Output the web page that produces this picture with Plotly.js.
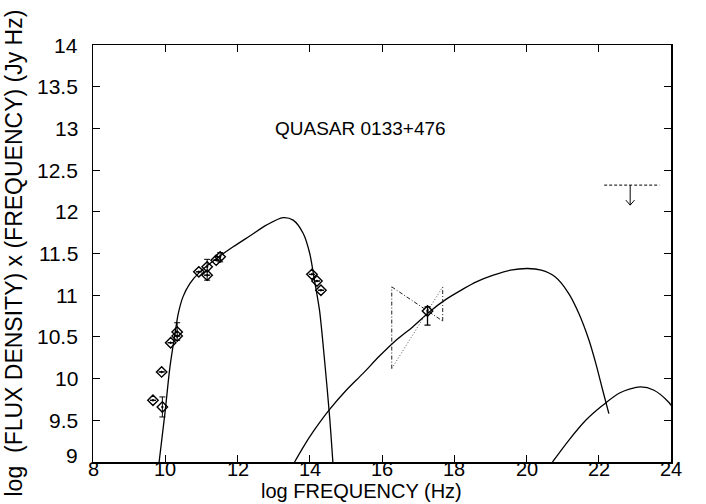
<!DOCTYPE html>
<html>
<head>
<meta charset="utf-8">
<script src="https://cdn.plot.ly/plotly-3.0.1.min.js"></script>
<style>html,body{margin:0;padding:0;background:#fff;}#chart{width:706px;height:504px;}</style>
</head>
<body>
<div id="chart"></div>
<script>
// ---- data (log frequency in Hz, log nu*F_nu in Jy Hz) ----
const obsX      = [9.66, 9.90, 9.92, 10.15, 10.33, 10.33, 10.93, 11.16, 11.16, 11.41, 11.52, 14.06, 14.20, 14.31];
const obsY      = [9.74, 10.08, 9.66, 10.43, 10.56, 10.51, 11.28, 11.34, 11.24, 11.42, 11.46, 11.25, 11.17, 11.06];
const obsErrUp  = [0, 0, 0.12, 0, 0.11, 0, 0, 0.09, 0, 0, 0.05, 0, 0, 0];
const obsErrDn  = [0, 0, 0.12, 0, 0.10, 0, 0, 0.16, 0, 0, 0.06, 0, 0, 0];

const xrayX     = [17.26];
const xrayY     = [10.81];
const xrayErrUp = [0.05];
const xrayErrDn = [0.17];

// X-ray spectral "bow tie" limits
const bowX      = [16.27, 17.68];
const bowTop    = [11.10, 11.10];
const bowBottom = [10.12, 10.69];

// gamma-ray upper limit
const limX      = [22.15, 23.68];
const limY      = 12.32;
const limArrowX = 22.87;
const limArrowY = 12.08;

// model curves
const syncX = [9.83, 9.99, 10.13, 10.27, 10.36, 10.49, 10.68, 10.96, 11.42, 11.88, 12.34, 12.80, 13.26, 13.54, 13.82, 14.00, 14.13, 14.27, 14.41, 14.55, 14.64];
const syncY = [9.00, 9.58, 10.14, 10.54, 10.78, 10.98, 11.14, 11.28, 11.44, 11.58, 11.71, 11.84, 11.93, 11.90, 11.74, 11.50, 11.18, 10.82, 10.22, 9.54, 9.00];

const sscX  = [13.58, 13.85, 14.09, 14.55, 15.01, 15.47, 15.93, 16.39, 16.85, 17.31, 17.77, 18.23, 18.61, 19.08, 19.56, 20.03, 20.41, 20.79, 21.17, 21.45, 21.73, 21.92, 22.11, 22.28];
const sscY  = [9.00, 9.20, 9.36, 9.63, 9.86, 10.06, 10.27, 10.46, 10.62, 10.80, 10.95, 11.07, 11.16, 11.24, 11.30, 11.32, 11.30, 11.22, 11.02, 10.78, 10.46, 10.18, 9.86, 9.58];

const ecX   = [20.72, 21.17, 21.64, 22.11, 22.59, 23.15, 23.53, 23.93, 24.00];
const ecY   = [9.00, 9.26, 9.50, 9.68, 9.83, 9.90, 9.86, 9.72, 9.68];

const xTicks = [8, 10, 12, 14, 16, 18, 20, 22, 24];
const yTicks = [9, 9.5, 10, 10.5, 11, 11.5, 12, 12.5, 13, 13.5, 14];
const chartTitle = "QUASAR 0133+476";
const xTitle = "log FREQUENCY (Hz)";
const yTitle = "log  (FLUX DENSITY) x (FREQUENCY) (Jy Hz)";

// ---- traces ----
const curveLine = {color: '#000', width: 1.3, shape: 'spline', smoothing: 0.8};
const traces = [];
traces.push({x: syncX, y: syncY, mode: 'lines', line: curveLine});
traces.push({x: sscX, y: sscY, mode: 'lines', line: curveLine});
traces.push({x: ecX, y: ecY, mode: 'lines', line: curveLine});

// bow tie
const dd = '4px,2px,1px,2px';
traces.push({x: [bowX[0], bowX[0]], y: [bowBottom[0], bowTop[0]], mode: 'lines', line: {color: '#222', width: 1, dash: dd}});
traces.push({x: [bowX[1], bowX[1]], y: [bowBottom[1], bowTop[1]], mode: 'lines', line: {color: '#222', width: 1, dash: dd}});
traces.push({x: [bowX[0], bowX[1]], y: [bowTop[0], bowBottom[1]], mode: 'lines', line: {color: '#222', width: 1, dash: dd}});
traces.push({x: [bowX[0], bowX[1]], y: [bowBottom[0], bowTop[1]], mode: 'lines', line: {color: '#555', width: 1, dash: '1px,2px'}});

// upper limit
traces.push({x: limX, y: [limY, limY], mode: 'lines', line: {color: '#000', width: 1, dash: '3px,2px'}});
const headDx = 0.12, headDy = 0.06;
traces.push({x: [limArrowX, limArrowX], y: [limY, limArrowY], mode: 'lines', line: {color: '#000', width: 1}});
traces.push({x: [limArrowX - headDx, limArrowX, limArrowX + headDx], y: [limArrowY + headDy, limArrowY, limArrowY + headDy], mode: 'lines', line: {color: '#000', width: 1}});

// observations
const markerStyle = {symbol: 'diamond-open-dot', size: 8, color: '#000', line: {width: 1.4, color: '#000'}};
traces.push({x: obsX, y: obsY, mode: 'markers', marker: markerStyle,
  error_y: {type: 'data', symmetric: false, array: obsErrUp, arrayminus: obsErrDn, color: '#000', thickness: 1, width: 3}});
traces.push({x: xrayX, y: xrayY, mode: 'markers', marker: markerStyle,
  error_y: {type: 'data', symmetric: false, array: xrayErrUp, arrayminus: xrayErrDn, color: '#000', thickness: 1.3, width: 3}});

const font = 'Liberation Sans, Arial, sans-serif';

// tick labels as annotations placed on the axis values
const xTickLabels = xTicks.map(v => ({
  x: v, y: 0, xref: 'x', yref: 'paper', text: String(v), showarrow: false,
  xanchor: 'center', yanchor: 'top', yshift: 5, borderpad: 0,
  font: {family: font, size: 20, color: '#000'}
}));
const yTickLabels = yTicks.map((v, i) => ({
  x: 0, y: v, xref: 'paper', yref: 'y', text: String(v), showarrow: false,
  xanchor: 'right', yanchor: 'middle', xshift: -14, yshift: i === 0 ? 7 : 0, borderpad: 0,
  font: {family: font, size: 21, color: '#000'}
}));

const layout = {
  width: 706, height: 504,
  margin: {l: 93, r: 35, t: 45, b: 42, pad: 0},
  paper_bgcolor: '#fff', plot_bgcolor: '#fff',
  showlegend: false,
  font: {family: font, color: '#000'},
  xaxis: {
    range: [8, 24], tickvals: xTicks, showticklabels: false,
    ticks: 'inside', ticklen: 7, tickwidth: 1, tickcolor: '#000',
    showline: true, linecolor: '#000', linewidth: 1.5, mirror: 'ticks',
    showgrid: false, zeroline: false
  },
  yaxis: {
    range: [9, 14], tickvals: yTicks, showticklabels: false,
    ticks: 'inside', ticklen: 7, tickwidth: 1, tickcolor: '#000',
    showline: true, linecolor: '#000', linewidth: 1.5, mirror: 'ticks',
    showgrid: false, zeroline: false
  },
  annotations: xTickLabels.concat(yTickLabels, [{
    x: 15.4, y: 13.0, xref: 'x', yref: 'y', text: chartTitle, showarrow: false,
    font: {family: font, size: 19, color: '#000'}, xanchor: 'center', yanchor: 'middle'
  }, {
    x: 0.4637, y: 0, xref: 'paper', yref: 'paper', yshift: -41, text: xTitle, showarrow: false, borderpad: 0,
    font: {family: font, size: 20, color: '#000'}, xanchor: 'center', yanchor: 'bottom'
  }, {
    x: 0, y: 0.5, xref: 'paper', yref: 'paper', xshift: -80, text: yTitle, showarrow: false, textangle: -90,
    font: {family: font, size: 23, color: '#000'}, xanchor: 'center', yanchor: 'middle'
  }])
};

Plotly.newPlot('chart', traces, layout, {staticPlot: true, displayModeBar: false});
</script>
</body>
</html>
